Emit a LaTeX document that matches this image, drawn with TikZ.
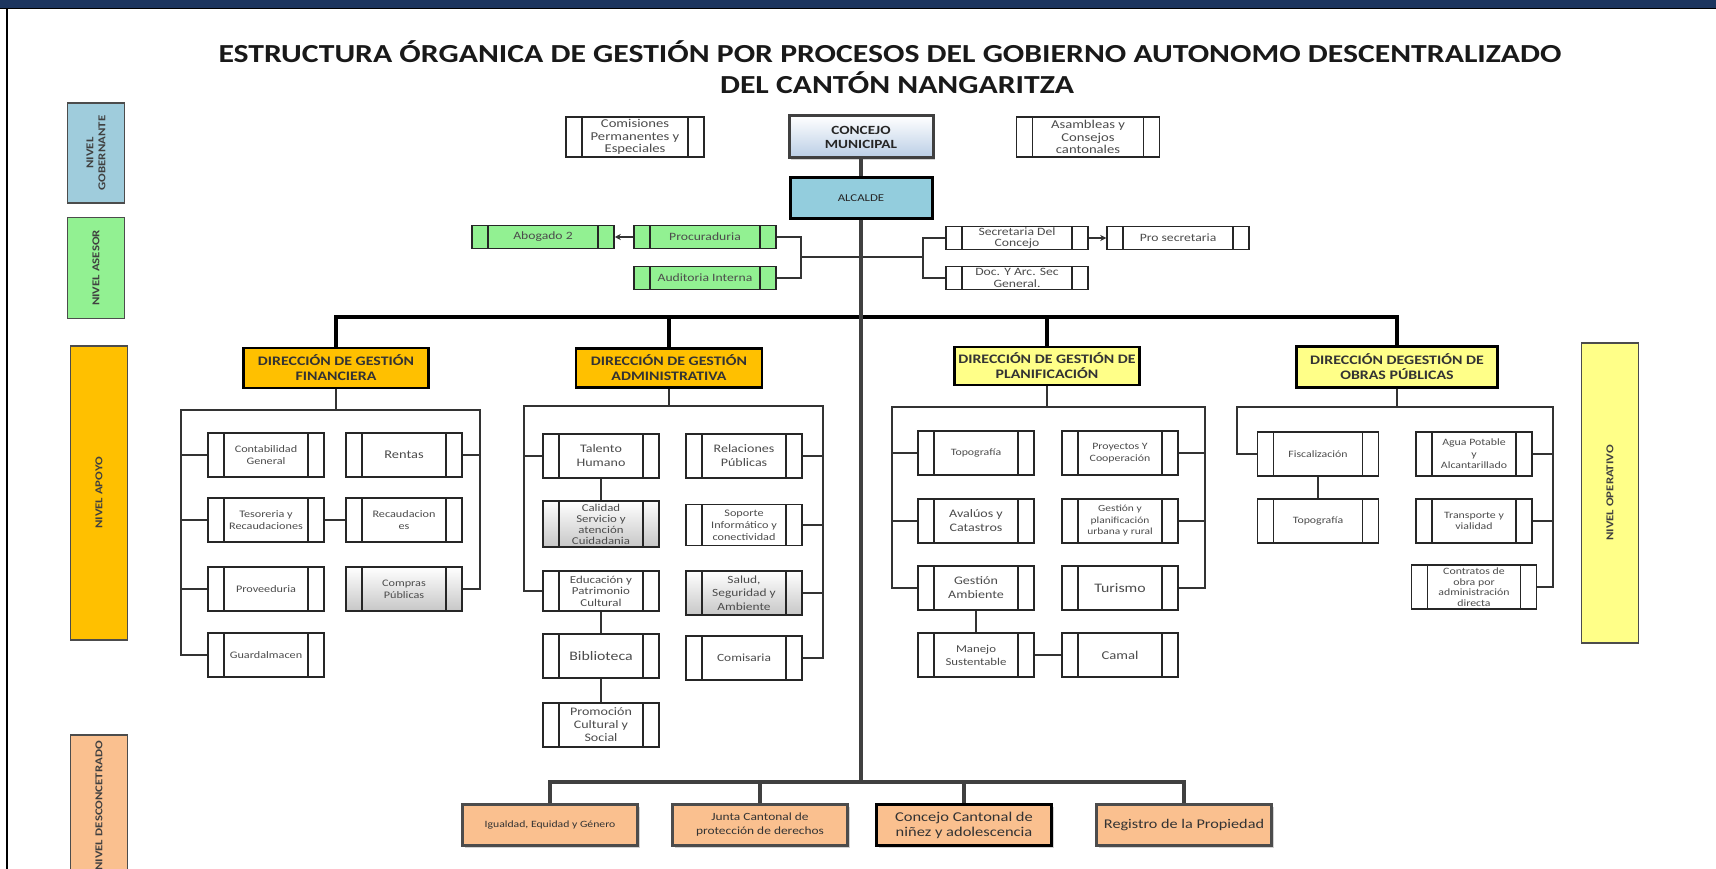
\documentclass[tikz,border=0pt]{standalone}
\usepackage{fontspec}
\setmainfont{Carlito}[FakeStretch=1.22]
\usepackage{tikz}
\usetikzlibrary{arrows.meta}
\usetikzlibrary{positioning}
\usetikzlibrary{shadows}

\definecolor{navy}{HTML}{1C355E}
\definecolor{gobc}{HTML}{9FCCDC}
\definecolor{asec}{HTML}{92F192}
\definecolor{dirf}{HTML}{FFC000}
\definecolor{dirp}{HTML}{FFFF88}
\definecolor{peachc}{HTML}{FAC08F}
\definecolor{alcc}{HTML}{93CDDD}
\definecolor{concc}{HTML}{B9CDE5}
\newcommand{\fsz}[2]{\fontsize{#1}{#2}\selectfont}

\begin{document}
\begin{tikzpicture}[x=1pt,y=-1pt,on grid,
  box/.style={draw=black!85,line width=1.5pt,fill=white,align=center,inner sep=1pt,text=black!70,
    minimum width=116pt,minimum height=44pt,font=\fsz{10}{12}},
  proc/.style={box,path picture={
    \draw[line width=1.5pt] ([xshift=16pt]path picture bounding box.south west) -- ([xshift=16pt]path picture bounding box.north west)
      ([xshift=-16pt]path picture bounding box.south east) -- ([xshift=-16pt]path picture bounding box.north east);}},
  big/.style={font=\fsz{11.5}{14}},
  small/.style={font=\fsz{9.7}{11.5}},
  dimbox/.style={top color=white,bottom color=black!22},
  aseb/.style={proc,fill=asec,minimum width=142pt,minimum height=23pt,inner sep=0pt,font=\fsz{11.2}{11.5}},
  dirbox/.style={draw=black,line width=2.5pt,align=center,inner sep=1pt,text=black!80,
    font=\bfseries\fsz{13}{15}},
  lvl/.style={draw=black!70,line width=1.5pt,rotate=90,align=center,inner sep=2pt,text=black!75,
    minimum height=57pt,font=\bfseries\fsz{10.5}{12}},
  peach/.style={draw=black!70,line width=3pt,fill=peachc,align=center,inner sep=1pt,text=black!80,
    minimum width=175pt,minimum height=41pt,font=\fsz{9.6}{13},
    drop shadow={shadow xshift=2pt,shadow yshift=-2pt,opacity=0.35}},
  conn/.style={draw=black!80,line width=1.6pt},
  bus/.style={draw=black,line width=4pt},
  trunk/.style={draw=black!75,line width=3.2pt},
  arr/.style={conn,-{Stealth[length=6pt,width=6pt]}}]
\useasboundingbox (0,0) rectangle (1716,869);
\clip (0,0) rectangle (1716,869);
\fill[white] (0,0) rectangle (1716,869);
\fill[navy] (0,0) rectangle (1716,8);
\draw[line width=1.5pt] (0,8.7) -- (1716,8.7);
\draw[line width=2.5pt] (7,8) -- (7,869);

\node[anchor=base,font=\bfseries\fsz{26}{30},text=black!90] (t1) at (890,63)
  {ESTRUCTURA ÓRGANICA DE GESTIÓN POR PROCESOS DEL GOBIERNO AUTONOMO DESCENTRALIZADO};
\node[anchor=base,font=\bfseries\fsz{26}{30},text=black!90] (t2) at (897,94) {DEL CANTÓN NANGARITZA};

% niveles
\node[lvl,fill=gobc,minimum width=100pt] (lg) at (96,153) {NIVEL\\GOBERNANTE};
\node[lvl,fill=asec,minimum width=101pt] (la) at (96,268) {NIVEL ASESOR};
\node[lvl,fill=dirf,minimum width=294pt] (lp) at (99,493) {NIVEL APOYO};
\node[lvl,fill=peachc,minimum width=260pt,text width=248pt,align=right] (ld) at (99,865) {NIVEL DESCONCETRADO};
\node[lvl,fill=dirp,minimum width=300pt] (lo) at (1610,493) {NIVEL OPERATIVO};

% gobernante
\node[box,top color=white,bottom color=concc,draw=black!75,line width=3pt,minimum width=144pt,minimum height=42pt,
  font=\bfseries\fsz{12.5}{14},text=black!85,drop shadow={shadow xshift=2pt,shadow yshift=-2pt,opacity=0.35}] (conc) at (861,137) {CONCEJO\\MUNICIPAL};
\node[box,fill=alcc,draw=black,line width=3pt,minimum width=142pt,minimum height=41pt,font=\fsz{10.5}{13},text=black!85] (alc) [below=61pt of conc] {ALCALDE};
\node[proc,minimum width=138pt,minimum height=40pt,inner sep=0pt,font=\fsz{12}{12.5}] (com) [left=226pt of conc] {Comisiones\\Permanentes y\\Especiales};
\node[proc,minimum width=143pt,minimum height=40pt,inner sep=0pt,font=\fsz{12}{12.5}] (asa) [right=227pt of conc] {Asambleas y\\Consejos\\cantonales};

% asesor
\node[aseb] (pr) at (705,237) {Procuraduria};
\node[aseb] (ab) [left=162pt of pr] {Abogado 2};
\node[aseb] (au) [below=41pt of pr] {Auditoria Interna};
\node[aseb,fill=white] (se) at (1017,238) {Secretaria Del\\Concejo};
\node[aseb,fill=white] (ps) [right=161pt of se] {Pro secretaria};
\node[aseb,fill=white] (dc) [below=40pt of se] {Doc. Y Arc. Sec\\General.};

% direcciones
\node[dirbox,fill=dirf,minimum width=185pt,minimum height=40pt] (df) at (336,368) {DIRECCIÓN DE GESTIÓN\\FINANCIERA};
\node[dirbox,fill=dirf,minimum width=186pt,minimum height=39pt] (da) at (669,368) {DIRECCIÓN DE GESTIÓN\\ADMINISTRATIVA};
\node[dirbox,fill=dirp,minimum width=185pt,minimum height=38pt] (dp) at (1047,366) {DIRECCIÓN DE GESTIÓN DE\\PLANIFICACIÓN};
\node[dirbox,fill=dirp,minimum width=201pt,minimum height=41pt] (dob) at (1397,367) {DIRECCIÓN DEGESTIÓN DE\\OBRAS PÚBLICAS};

% financiera
\node[proc] (f1) at (266,455) {Contabilidad\\General};
\node[proc] (f2) [below=65pt of f1] {Tesoreria y\\Recaudaciones};
\node[proc] (f3) [below=69pt of f2] {Proveeduria};
\node[proc] (f4) [below=66pt of f3] {Guardalmacen};
\node[proc,font=\fsz{11.8}{14}] (f5) [right=138pt of f1] {Rentas};
\node[proc] (f6) [right=138pt of f2] {Recaudacion\\es};
\node[proc,dimbox] (f7) [right=138pt of f3] {Compras\\Públicas};

% administrativa
\node[proc,big] (a1) at (601,456) {Talento\\Humano};
\node[proc,dimbox,minimum height=46pt,inner sep=0pt,font=\fsz{10.5}{11}] (a2) [below=68pt of a1] {Calidad\\Servicio y\\atención\\Cuidadania};
\node[proc,minimum height=40pt,font=\fsz{10.6}{11.5}] (a3) [below=67pt of a2] {Educación y\\Patrimonio\\Cultural};
\node[proc,font=\fsz{13}{15}] (a4) [below=65pt of a3] {Biblioteca};
\node[proc,font=\fsz{11.5}{13}] (a5) [below=69pt of a4] {Promoción\\Cultural y\\Social};
\node[proc,big] (a6) [right=143pt of a1] {Relaciones\\Públicas};
\node[proc,minimum height=41pt,font=\fsz{10}{12}] (a7) [below=69pt of a6] {Soporte\\Informático y\\conectividad};
\node[proc,dimbox,font=\fsz{11}{13.5}] (a8) [below=68pt of a7] {Salud,\\Seguridad y\\Ambiente};
\node[proc,font=\fsz{11}{13}] (a9) [below=65pt of a8] {Comisaria};

% planificacion
\node[proc,small] (p1) at (976,453) {Topografía};
\node[proc,big] (p2) [below=68pt of p1] {Avalúos y\\Catastros};
\node[proc,big] (p3) [below=67pt of p2] {Gestión\\Ambiente};
\node[proc,font=\fsz{10.5}{13}] (p4) [below=67pt of p3] {Manejo\\Sustentable};
\node[proc,small] (p5) [right=144pt of p1] {Proyectos Y\\Cooperación};
\node[proc,font=\fsz{9.4}{11.5}] (p6) [below=68pt of p5] {Gestión y\\planificación\\urbana y rural};
\node[proc,font=\fsz{13}{15}] (p7) [below=67pt of p6] {Turismo};
\node[proc,font=\fsz{12}{14}] (p8) [right=144pt of p4] {Camal};

% obras publicas
\node[proc,small,minimum width=121pt] (o1) at (1318,454) {Fiscalización};
\node[proc,small,minimum width=121pt] (o2) [below=67pt of o1] {Topografía};
\node[proc,small] (o3) [right=156pt of o1] {Agua Potable\\y\\Alcantarillado};
\node[proc,small] (o4) [below=67pt of o3] {Transporte y\\vialidad};
\node[proc,minimum width=125pt,inner sep=0pt,font=\fsz{9.7}{10.6}] (o5) [below=66pt of o4] {Contratos de\\obra por\\administración\\directa};

% desconcentrado
\node[peach] (b1) at (550,825) {Igualdad, Equidad y Género};
\node[peach,font=\fsz{11}{14}] (b2) [right=210pt of b1] {Junta Cantonal de\\protección de derechos};
\node[peach,draw=black,line width=3.5pt,font=\fsz{13.5}{15}] (b3) [right=204pt of b2] {Concejo Cantonal de\\niñez y adolescencia};
\node[peach,font=\fsz{13.3}{15}] (b4) [right=220pt of b3] {Registro de la Propiedad};

\coordinate (tl) at (861,257);
\coordinate (al) at (801,257);
\coordinate (ar) at (923,257);
\coordinate (bl) at (336,317);
\coordinate (bb) at (861,782);
\coordinate (fl) at (181,410);
\coordinate (fr) at (480,410);
\coordinate (ml) at (524,406);
\coordinate (mr) at (823,406);
\coordinate (ql) at (892,407);
\coordinate (qr) at (1205,407);
\coordinate (ol) at (1237,407);
\coordinate (or) at (1553,407);

\draw[conn] (pr.east) -| (al) |- (au.east);
\draw[conn] (se.west) -| (ar) |- (dc.west);
\draw[conn] (al) -- (ar);
\draw[arr] (pr) -- (ab);
\draw[arr] (se) -- (ps);

\draw[bus] (df.north) |- (bl) -| (dob.north);
\draw[bus] (da.north) -- (da.north |- bl);
\draw[bus] (dp.north) -- (dp.north |- bl);
\draw[trunk] (conc) -- (alc);
\draw[trunk] (alc) -- (bb);
\draw[trunk] (b1.north) |- (bb) -| (b4.north);
\draw[trunk] (b2.north) -- (b2.north |- bb);
\draw[trunk] (b3.north) -- (b3.north |- bb);

\draw[conn] (df) -- (df.south |- fl);
\draw[conn] (f4.west) -| (fl) -- (fr) |- (f7.east);
\draw[conn] (f1.west) -- (f1.west -| fl) (f2.west) -- (f2.west -| fl) (f3.west) -- (f3.west -| fl);
\draw[conn] (f5.east) -- (f5.east -| fr);
\draw[conn] (f2) -- (f6);

\draw[conn] (da) -- (da.south |- ml);
\draw[conn] (a3.west) -| (ml) -- (mr) |- (a9.east);
\draw[conn] (a1.west) -- (a1.west -| ml);
\draw[conn] (a6.east) -- (a6.east -| mr) (a7.east) -- (a7.east -| mr) (a8.east) -- (a8.east -| mr);
\draw[conn] (a1) -- (a2) (a3) -- (a4) (a4) -- (a5);

\draw[conn] (dp) -- (dp.south |- ql);
\draw[conn] (p3.west) -| (ql) -- (qr) |- (p7.east);
\draw[conn] (p1.west) -- (p1.west -| ql) (p2.west) -- (p2.west -| ql);
\draw[conn] (p5.east) -- (p5.east -| qr) (p6.east) -- (p6.east -| qr);
\draw[conn] (p3) -- (p4) (p4) -- (p8);

\draw[conn] (dob) -- (dob.south |- ol);
\draw[conn] (o1.west) -| (ol) -- (or) |- (o5.east);
\draw[conn] (o3.east) -- (o3.east -| or) (o4.east) -- (o4.east -| or);
\draw[conn] (o1) -- (o2);
\end{tikzpicture}
\end{document}
